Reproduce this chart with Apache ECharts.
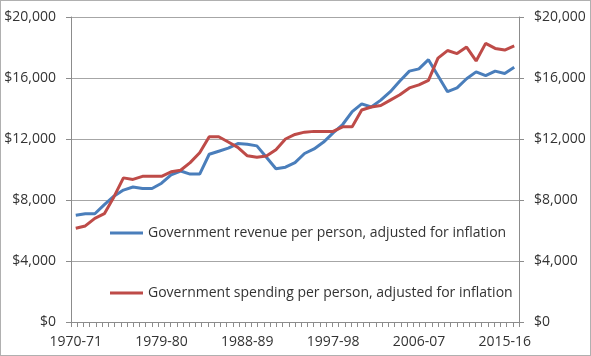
<!DOCTYPE html>
<html>
<head>
<meta charset="utf-8">
<script src="https://cdn.jsdelivr.net/npm/echarts@6/dist/echarts.min.js"></script>
<style>
  html, body { margin: 0; padding: 0; background: #fff; }
  #wrap { width: 591px; height: 356px; box-sizing: border-box; border: 1px solid #b0b0b0; }
  #chart { width: 589px; height: 354px; }
</style>
</head>
<body>
<div id="wrap"><div id="chart"></div></div>
<script>
var years = ['1970-71','1971-72','1972-73','1973-74','1974-75','1975-76','1976-77','1977-78','1978-79','1979-80',
  '1980-81','1981-82','1982-83','1983-84','1984-85','1985-86','1986-87','1987-88','1988-89','1989-90',
  '1990-91','1991-92','1992-93','1993-94','1994-95','1995-96','1996-97','1997-98','1998-99','1999-00',
  '2000-01','2001-02','2002-03','2003-04','2004-05','2005-06','2006-07','2007-08','2008-09','2009-10',
  '2010-11','2011-12','2012-13','2013-14','2014-15','2015-16','2016-17'];

var revenue = [7000,7100,7100,7700,8250,8650,8850,8750,8750,9100,
  9650,9900,9700,9700,11000,11200,11400,11700,11650,11550,
  10800,10050,10150,10450,11050,11350,11800,12400,12950,13800,
  14300,14100,14550,15100,15800,16450,16600,17200,16150,15100,
  15350,15950,16400,16150,16450,16300,16700];

var spending = [6150,6300,6800,7100,8200,9450,9350,9550,9550,9550,
  9850,9950,10450,11100,12150,12150,11800,11450,10900,10800,
  10880,11300,12000,12300,12450,12500,12500,12500,12800,12800,
  13900,14100,14200,14550,14900,15350,15550,15850,17300,17800,
  17600,18030,17120,18270,17940,17830,18100];

var revenueName = 'Government revenue per person, adjusted for inflation';
var spendingName = 'Government spending per person, adjusted for inflation';

var yTicks = [0, 4000, 8000, 12000, 16000, 20000];

function money(v) {
  return '$' + String(v).replace(/\B(?=(\d{3})+(?!\d))/g, ',');
}

var FONT = 'Open Sans';
var TXT = '#333333';
var AX = '#8c8c8c';

var chart = echarts.init(document.getElementById('chart'), null, { renderer: 'canvas' });
var yBase = {
  type: 'value', min: yTicks[0], max: yTicks[yTicks.length - 1], interval: yTicks[1] - yTicks[0],
  axisLine: { show: true, lineStyle: { color: AX, width: 1 } },
  axisTick: { show: true, length: 5, lineStyle: { color: AX } },
  axisLabel: { formatter: money, color: TXT, fontFamily: FONT, fontSize: 14, margin: 15 }
};
chart.setOption({
  animation: false,
  textStyle: { fontFamily: FONT },
  grid: { left: 70, right: 71, top: 16, bottom: 33, containLabel: false },
  legend: [
    { data: [revenueName], left: 104, top: 220, icon: 'rect', itemWidth: 33, itemHeight: 3, itemGap: 5,
      textStyle: { color: TXT, fontFamily: FONT, fontSize: 14 }, selectedMode: false },
    { data: [spendingName], left: 104, top: 280, icon: 'rect', itemWidth: 33, itemHeight: 3, itemGap: 5,
      textStyle: { color: TXT, fontFamily: FONT, fontSize: 14 }, selectedMode: false }
  ],
  xAxis: [
    { type: 'category', data: years, boundaryGap: true,
      axisLine: { show: true, lineStyle: { color: AX, width: 1 } },
      axisTick: { show: false },
      axisLabel: { interval: 8, color: TXT, fontFamily: FONT, fontSize: 14, margin: 13 } },
    { type: 'value', position: 'bottom', min: 0, max: 72, interval: 1,
      axisLine: { show: false }, axisLabel: { show: false }, splitLine: { show: false },
      axisTick: { show: true, length: 5, lineStyle: { color: AX } } }
  ],
  yAxis: [
    Object.assign({}, yBase, { position: 'left',
      splitLine: { show: true, lineStyle: { color: '#a6a6a6', width: 1 } } }),
    Object.assign({}, yBase, { position: 'right', splitLine: { show: false } })
  ],
  series: [
    { name: revenueName, type: 'line', data: revenue, xAxisIndex: 0, yAxisIndex: 0,
      showSymbol: false, symbol: 'none', lineStyle: { color: '#4a7ebb', width: 3 }, itemStyle: { color: '#4a7ebb' } },
    { name: spendingName, type: 'line', data: spending, xAxisIndex: 0, yAxisIndex: 0,
      showSymbol: false, symbol: 'none', lineStyle: { color: '#be4b48', width: 3 }, itemStyle: { color: '#be4b48' } }
  ]
});
</script>
</body>
</html>
